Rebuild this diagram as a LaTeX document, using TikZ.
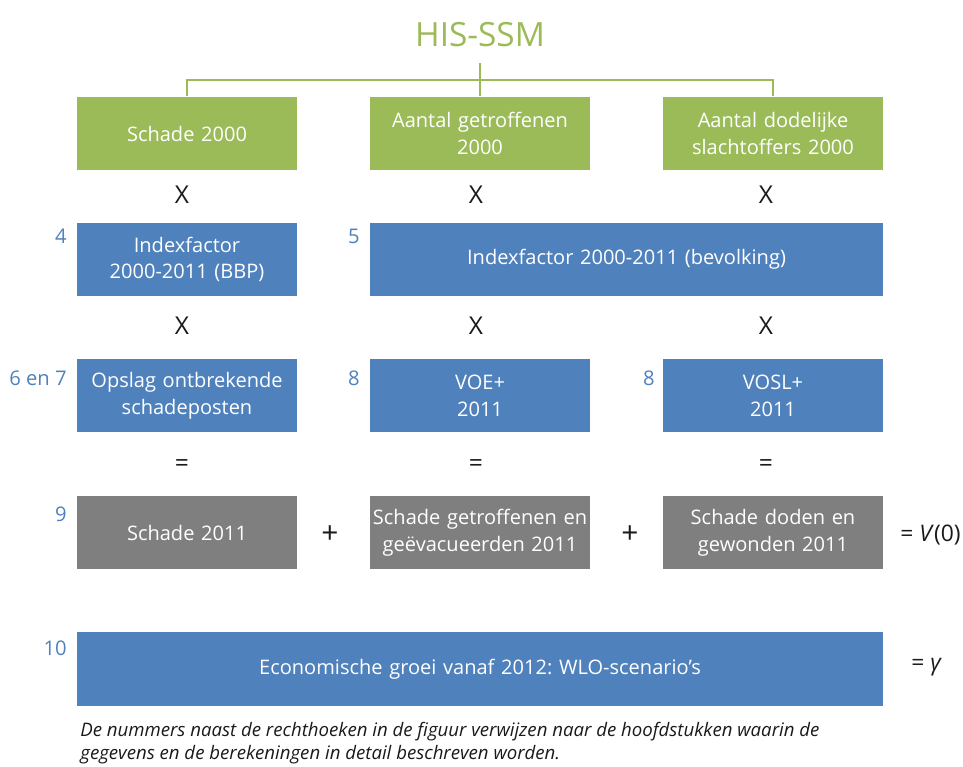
\documentclass[tikz,border=0pt]{standalone}
\usepackage{fontspec}
\setmainfont{Open Sans}
\usepackage{xcolor}
\usetikzlibrary{positioning}
\definecolor{HSGreen}{HTML}{9BBB59}
\definecolor{HSBlue}{HTML}{4F81BD}
\definecolor{HSGray}{HTML}{7F7F7F}
\definecolor{HSText}{HTML}{1A1A1A}
\frenchspacing

\begin{document}
\begin{tikzpicture}[
    x=0.02cm,y=-0.02cm,font=\fontsize{11.4}{15.2}\selectfont,
    greenbox/.style={fill=HSGreen,text=white,minimum width=4.4cm,minimum height=1.48cm,
      text width=4.3cm,align=center,inner sep=0pt},
    bluebox/.style={greenbox,fill=HSBlue},
    graybox/.style={greenbox,fill=HSGray},
    op/.style={text=HSText,font=\fontsize{14}{16}\selectfont},
    chap/.style={text=HSBlue,anchor=north east,inner sep=0pt,font=\fontsize{11.5}{13}\selectfont},
    tree/.style={draw=HSGreen,line width=1.1pt}
  ]
    \useasboundingbox (0,0) rectangle (963,767);

    \node[text=HSGreen,font=\fontsize{19}{22}\selectfont] (title) at (480,35) {HIS-SSM};
    \coordinate (split) at (480,80);

    % rij 1
    \node[greenbox] (schade00) at (187,133.5) {Schade 2000};
    \node[greenbox] (getroffen00) at (480,133.5) {Aantal getroffenen\\2000};
    \node[greenbox] (doden00) at (773,133.5) {Aantal dodelijke\\slachtoffers 2000};

    \draw[tree] ([yshift=-0.2cm]title.south) -- (getroffen00.north);
    \draw[tree] (schade00.north) |- (split) -| (doden00.north);

    \node[op] (x1a) at (182,195) {X};
    \node[op] (x1b) at (476,195) {X};
    \node[op] (x1c) at (766,195) {X};

    % rij 2
    \node[bluebox] (idxbbp) at (187,259.5) {Indexfactor\\2000-2011 (BBP)};
    \node[bluebox,minimum width=10.26cm,text width=10cm] (idxbev) at (626.5,259.5) {Indexfactor 2000-2011 (bevolking)};
    \node[chap] (n4) at (67,229) {4};
    \node[chap] (n5) at (360,229) {5};

    \node[op] (x2a) at (182,326) {X};
    \node[op] (x2b) at (476,326) {X};
    \node[op] (x2c) at (766,326) {X};

    % rij 3
    \node[bluebox] (opslag) at (187,395.5) {Opslag ontbrekende\\schadeposten};
    \node[bluebox] (voe) at (480,395.5) {VOE+\\2011};
    \node[bluebox] (vosl) at (773,395.5) {VOSL+\\2011};
    \node[chap] (n67) at (67,371) {6 en 7};
    \node[chap] (n8a) at (360,371) {8};
    \node[chap] (n8b) at (655,371) {8};

    \node[op] (eq1) at (182,466) {=};
    \node[op] (eq2) at (476,466) {=};
    \node[op] (eq3) at (766,466) {=};

    % rij 4
    \node[graybox] (schade11) at (187,532.5) {Schade 2011};
    \node[graybox] (getroffen11) at (480,532.5) {Schade getroffenen en\\geëvacueerden 2011};
    \node[graybox] (doden11) at (773,532.5) {Schade doden en\\gewonden 2011};
    \node[chap] (n9) at (67,507) {9};
    \node[op,font=\fontsize{17}{19}\selectfont] (plus1) at (330,535) {+};
    \node[op,font=\fontsize{17}{19}\selectfont] (plus2) at (630,535) {+};
    \node[text=HSText,font=\fontsize{13}{15}\selectfont,anchor=east,inner sep=0pt] (v0) at (961,535) {= \textit{V}(0)};

    % rij 5
    \node[bluebox,minimum width=16.12cm,text width=15cm] (groei) at (480,669) {Economische groei vanaf 2012: WLO-scenario’s};
    \node[chap] (n10) at (67,640) {10};
    \node[text=HSText,font=\fontsize{13}{15}\selectfont,anchor=west,inner sep=0pt] (gamma) at (911,667) {= \textit{γ}};

    \node[anchor=north west,align=left,inner sep=0pt,text=HSText,
      font=\fontsize{10.6}{13.2}\selectfont\itshape] (noot) at (80,722)
      {De nummers naast de rechthoeken in de figuur verwijzen naar de hoofdstukken waarin de\\
       gegevens en de berekeningen in detail beschreven worden.};
  \end{tikzpicture}
\end{document}
